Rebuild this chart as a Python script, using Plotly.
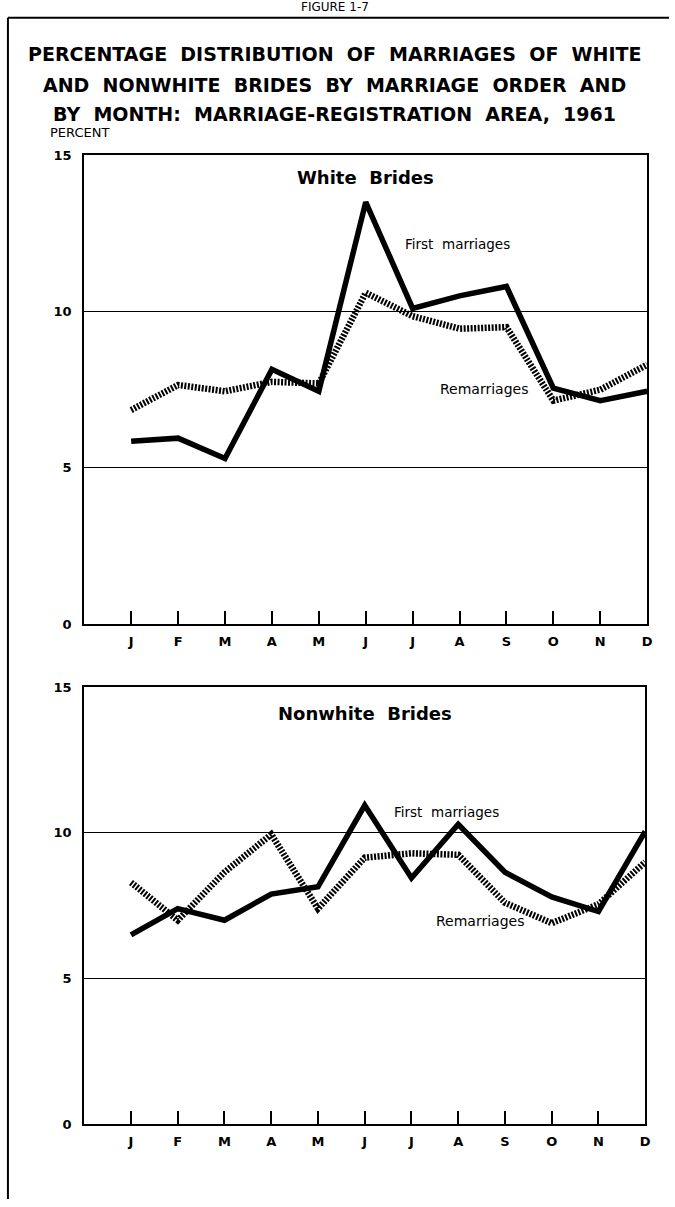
import plotly.graph_objects as go

months = ["J", "F", "M", "A", "M", "J", "J", "A", "S", "O", "N", "D"]
white_first = [5.85, 5.95, 5.3, 8.15, 7.45, 13.5, 10.1, 10.5, 10.8, 7.55, 7.15, 7.45]
white_remarr = [6.85, 7.65, 7.45, 7.75, 7.7, 10.6, 9.85, 9.45, 9.5, 7.15, 7.5, 8.3]
nonwhite_first = [6.5, 7.4, 7.0, 7.9, 8.15, 10.95, 8.45, 10.3, 8.65, 7.8, 7.3, 10.05]
nonwhite_remarr = [8.3, 7.0, 8.65, 9.95, 7.4, 9.15, 9.3, 9.25, 7.6, 6.9, 7.55, 9.0]
y_ticks = [0, 5, 10, 15]

W, H = 675, 1207
FONT = "DejaVu Sans"

def px(x):
    return x / W

def py(y):
    return 1 - y / H

x_idx = list(range(len(months)))

fig = go.Figure()

panels = [
    ("x", "y", white_first, white_remarr),
    ("x2", "y2", nonwhite_first, nonwhite_remarr),
]
for xa, ya, first, rem in panels:
    fig.add_trace(go.Scatter(x=x_idx, y=rem, xaxis=xa, yaxis=ya, mode="lines",
                             line=dict(color="black", width=6.5, dash="2px,1.5px"),
                             showlegend=False, hoverinfo="skip"))
    fig.add_trace(go.Scatter(x=x_idx, y=first, xaxis=xa, yaxis=ya, mode="lines",
                             line=dict(color="black", width=5.5),
                             showlegend=False, hoverinfo="skip"))

xaxis_common = dict(
    range=[-1, 11], tickmode="array", tickvals=x_idx, ticktext=months,
    ticks="inside", ticklen=13, tickwidth=2, tickcolor="black",
    showgrid=False, zeroline=False, showline=True, linecolor="black", linewidth=2,
    mirror=True, tickfont=dict(family=FONT, size=13, color="black", weight="bold"),
    ticklabelstandoff=4, fixedrange=True,
)
yaxis_common = dict(
    range=[0, 15], tickmode="array", tickvals=y_ticks, ticktext=[str(v) for v in y_ticks],
    ticks="", showgrid=True, gridcolor="black", gridwidth=1.3, zeroline=False,
    showline=True, linecolor="black", linewidth=2, mirror=True,
    tickfont=dict(family=FONT, size=13, color="black", weight=600), ticklabelstandoff=8,
    fixedrange=True,
)

fig.update_layout(
    width=W, height=H,
    margin=dict(l=0, r=0, t=0, b=0),
    paper_bgcolor="white", plot_bgcolor="white",
    xaxis=dict(domain=[px(85), px(653)], anchor="y", **xaxis_common),
    yaxis=dict(domain=[py(625), py(150)], anchor="x", **yaxis_common),
    xaxis2=dict(domain=[px(85), px(651)], anchor="y2", **xaxis_common),
    yaxis2=dict(domain=[py(1131), py(689)], anchor="x2", **yaxis_common),
)

ann = []
titles = [
    "PERCENTAGE  DISTRIBUTION  OF  MARRIAGES  OF  WHITE",
    "AND  NONWHITE  BRIDES  BY  MARRIAGE  ORDER  AND",
    "BY  MONTH:  MARRIAGE-REGISTRATION  AREA,  1961",
]
for t, yy in zip(titles, [48, 79, 108]):
    ann.append(dict(text=t, xref="paper", yref="paper", x=px(338), y=py(yy),
                    xanchor="center", yanchor="middle", showarrow=False,
                    font=dict(family=FONT, size=19, color="black", weight="bold")))
ann.append(dict(text="FIGURE 1-7", xref="paper", yref="paper", x=px(338), y=py(0),
                xanchor="center", yanchor="middle", showarrow=False,
                font=dict(family=FONT, size=12, color="black")))
ann.append(dict(text="PERCENT", xref="paper", yref="paper", x=px(48), y=py(127),
                xanchor="left", yanchor="middle", showarrow=False,
                font=dict(family=FONT, size=13, color="black")))

# panel labels
labels = [
    ("x", "y", "White  Brides", 5, 14.27, 18, "bold"),
    ("x", "y", "First  marriages", 6.96, 12.16, 13.5, "normal"),
    ("x", "y", "Remarriages", 7.53, 7.52, 14, "normal"),
    ("x2", "y2", "Nonwhite  Brides", 5, 14.12, 18, "bold"),
    ("x2", "y2", "First  marriages", 6.74, 10.72, 13.5, "normal"),
    ("x2", "y2", "Remarriages", 7.46, 6.99, 14, "normal"),
]
for xa, ya, t, xv, yv, sz, wt in labels:
    ann.append(dict(text=t, xref=xa, yref=ya, x=xv, y=yv, xanchor="center",
                    yanchor="middle", showarrow=False,
                    font=dict(family=FONT, size=sz, color="black", weight=wt)))

fig.update_layout(annotations=ann)

# outer frame of the figure page
fig.add_shape(type="line", xref="paper", yref="paper", x0=px(8), x1=px(8),
              y0=py(1207), y1=py(11), line=dict(color="black", width=2))
fig.add_shape(type="line", xref="paper", yref="paper", x0=px(8), x1=px(675),
              y0=py(11), y1=py(11), line=dict(color="black", width=2))

fig.write_html("out.html", config={"displayModeBar": False},
               post_script="document.body.style.margin='0';document.body.style.overflow='hidden';")
